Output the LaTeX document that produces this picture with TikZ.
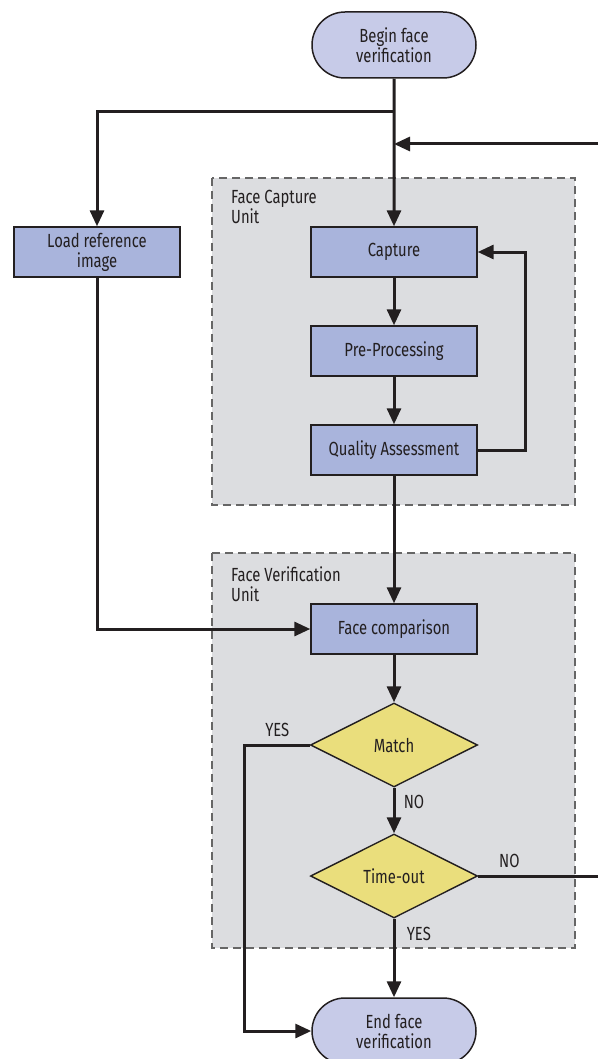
\documentclass[tikz,border=0pt]{standalone}
\usepackage{fontspec}
\setmainfont[FakeStretch=0.78]{Fira Sans}
\usetikzlibrary{positioning}
\usetikzlibrary{shapes.geometric,shapes.misc,arrows.meta}
\definecolor{termfill}{HTML}{C7CBE8}
\definecolor{boxfill}{HTML}{A9B4DC}
\definecolor{decfill}{HTML}{EADE7C}
\definecolor{unitfill}{HTML}{DCDDE0}
\definecolor{inkline}{HTML}{231F20}

\begin{document}
\begin{tikzpicture}[x = 1pt, y = -1pt,
	every node/.style = {font = \fontsize{19}{20}\selectfont, text = inkline},
	term/.style = {rounded rectangle, draw = inkline, line width = 1.5pt, fill = termfill, minimum width = 164pt, minimum height = 66pt, align = center, inner sep = 0pt},
	stage/.style = {rectangle, draw = inkline, line width = 1.4pt, fill = boxfill, minimum width = 166pt, minimum height = 50pt, align = center, inner sep = 0pt},
	decision/.style = {diamond, draw = inkline, line width = 1.4pt, fill = decfill, minimum width = 167pt, minimum height = 84pt, inner sep = 0pt},
	unit/.style = {draw = black!60, dashed, dash pattern = on 8pt off 5pt, line width = 1.1pt, fill = unitfill},
	unitlabel/.style = {anchor = north west, align = left, inner sep = 0pt},
	flow/.style = {draw = inkline, line width = 3pt, line join = miter, -{Triangle[length = 16pt, width = 14pt]}},
	link/.style = {draw = inkline, line width = 3pt}]
	\clip (0, 0) rectangle (598, 1059);
	\fill [white] (0, 0) rectangle (598, 1059);
	% units
	\draw [unit] (212, 178) rectangle (575, 505);
	\node [unitlabel] (capunit) at (231, 190) {Face Capture\\Unit};
	\draw [unit] (212, 553) rectangle (575, 948);
	\node [unitlabel] (verunit) at (231, 566) {Face Verification\\Unit};
	% nodes
	\node [term] (begin) at (394, 45) {Begin face\\verification};
	\node [stage] (load) at (97, 252) {Load reference\\image};
	\node [stage] (capture) at (394, 252) {Capture};
	\node [stage] (preproc) at (394, 351) {Pre-Processing};
	\node [stage] (quality) at (394, 450) {Quality Assessment};
	\node [stage] (compare) at (394, 629) {Face comparison};
	\node [decision] (match) at (394, 745) {Match};
	\node [decision] (timeout) at (394, 876) {Time-out};
	\node [term] (end) at (394, 1031) {End face\\verification};
	\coordinate (split) at (394, 112);
	\coordinate (retry) at (598, 144);
	\coordinate (exit) at (598, 876);
	% connectors
	\draw [flow] (begin) -- (capture);
	\draw [flow] (split) -| (load);
	\draw [flow] (retry) -- (retry -| begin);
	\draw [flow] (capture) -- (preproc);
	\draw [flow] (preproc) -- (quality);
	\draw [flow] (quality.east) -- ++(48, 0) |- (capture.east);
	\draw [flow] (quality) -- (compare);
	\draw [flow] (load) |- (compare);
	\draw [flow] (compare) -- (match);
	\draw [flow] (match) -- node [pos = 0.32, right = 5pt] {NO} (timeout);
	\draw [flow] (match.west) -- ++(-65, 0) node [midway, above = 3pt] {YES} |- (end.west);
	\draw [flow] (timeout) -- node [pos = 0.2, right = 8pt] {YES} (end);
	\draw [link] (timeout.east) -- node [pos = 0.26, above = 3pt] {NO} (exit);
\end{tikzpicture}
\end{document}
